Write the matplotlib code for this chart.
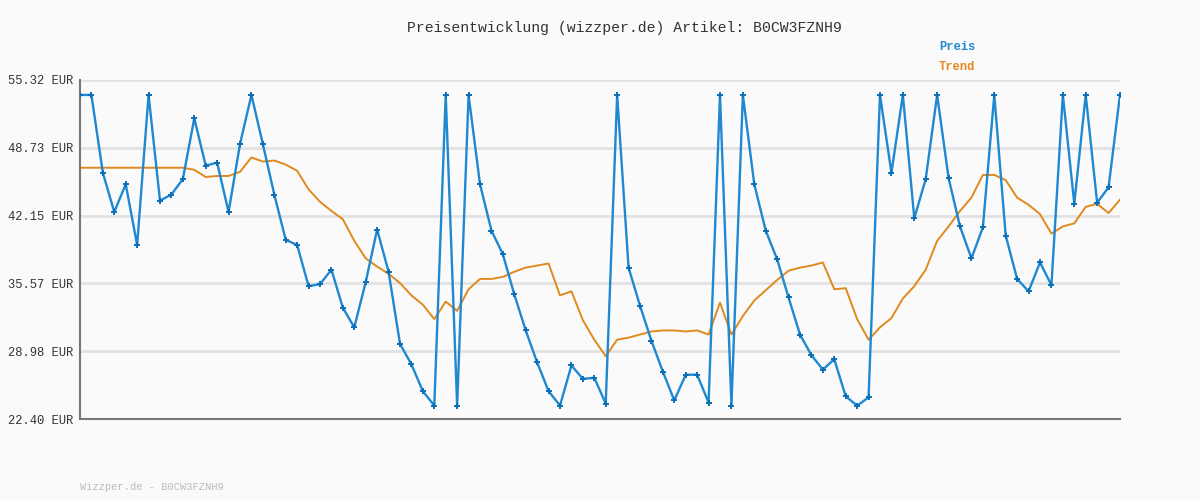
import matplotlib
matplotlib.use("Agg")
import matplotlib.pyplot as plt
import numpy as np

preis = [53.87,53.87,46.3,42.5,45.2,39.3,53.87,43.6,44.2,45.7,51.6,47.0,47.3,42.5,49.1,53.87,49.1,44.2,39.8,39.3,
         35.3,35.5,36.9,33.2,31.3,35.7,40.8,36.7,29.7,27.7,25.1,23.7,53.87,23.7,53.87,45.2,40.7,38.4,34.5,31.0,
         27.9,25.1,23.7,27.6,26.3,26.4,23.9,53.87,37.1,33.4,30.0,27.0,24.2,26.7,26.7,24.0,53.87,23.7,53.87,45.2,
         40.7,37.9,34.2,30.6,28.6,27.2,28.2,24.6,23.7,24.5,53.87,46.3,53.87,41.9,45.7,53.87,45.8,41.1,38.0,41.0,
         53.87,40.2,36.0,34.8,37.6,35.4,53.87,43.3,53.87,43.4,44.9,53.87]
trend = [46.8]*10 + [46.6,45.9,46.0,46.0,46.4,47.8,47.4,47.5,47.1,46.5,
         44.7,43.5,42.6,41.8,39.7,38.0,37.2,36.5,35.6,34.4,33.5,32.1,33.8,32.9,35.0,36.0,36.0,36.2,36.7,37.1,
         37.3,37.5,34.4,34.8,32.0,30.1,28.5,30.1,30.3,30.6,30.9,31.0,31.0,30.9,31.0,30.6,33.7,30.6,32.4,33.9,
         34.9,35.9,36.8,37.1,37.3,37.6,35.0,35.1,32.1,30.1,31.3,32.2,34.1,35.3,36.9,39.7,41.1,42.6,43.9,
         46.1,46.1,45.6,43.9,43.2,42.3,40.4,41.1,41.4,43.0,43.3,42.4,43.7]
yticks = [22.40,28.98,35.57,42.15,48.73,55.32]
title = "Preisentwicklung (wizzper.de) Artikel: B0CW3FZNH9"

mono = "Liberation Mono"
fig = plt.figure(figsize=(12,5), dpi=100, facecolor="#fafafa")
ax = fig.add_axes([80/1200, 81/500, 1040/1200, 339/500], facecolor="#fafafa")
x = np.arange(len(preis))
ax.plot(x, trend, color="#e08a1e", lw=1.4, zorder=2)
ax.plot(x, preis, color="#1f88d0", lw=1.7, marker="+", ms=4, mew=1.4, mec="#0b6fb8", zorder=3)
ax.set_xlim(0, len(preis)-1)
ax.set_ylim(22.40, 55.32)
ax.set_yticks(yticks)
ax.set_yticklabels([f"{v:.2f} EUR" for v in yticks], fontfamily=mono, fontsize=8.7, color="#333333")
ax.set_xticks([])
ax.grid(axis="y", color="#e2e2e2", lw=2)
ax.tick_params(axis="y", length=0, pad=5)
for s in ["top","right"]:
    ax.spines[s].set_visible(False)
for s in ["left","bottom"]:
    ax.spines[s].set_color("#777777"); ax.spines[s].set_linewidth(1.5)
fig.text(624/1200, 1-28/500, title, ha="center", va="center", fontfamily=mono, fontsize=10.6, color="#333333")
fig.text(939/1200, 1-47/500, "Preis", fontfamily=mono, fontsize=8.7, fontweight="bold", color="#1f88d0", va="center")
fig.text(939/1200, 1-67/500, "Trend", fontfamily=mono, fontsize=8.7, fontweight="bold", color="#e08a1e", va="center")
fig.text(80/1200, 1-487/500, "Wizzper.de - B0CW3FZNH9", fontfamily=mono, fontsize=7.5, color="#bbbbbb", va="center")
fig.savefig("out.png", dpi=100, facecolor=fig.get_facecolor())
